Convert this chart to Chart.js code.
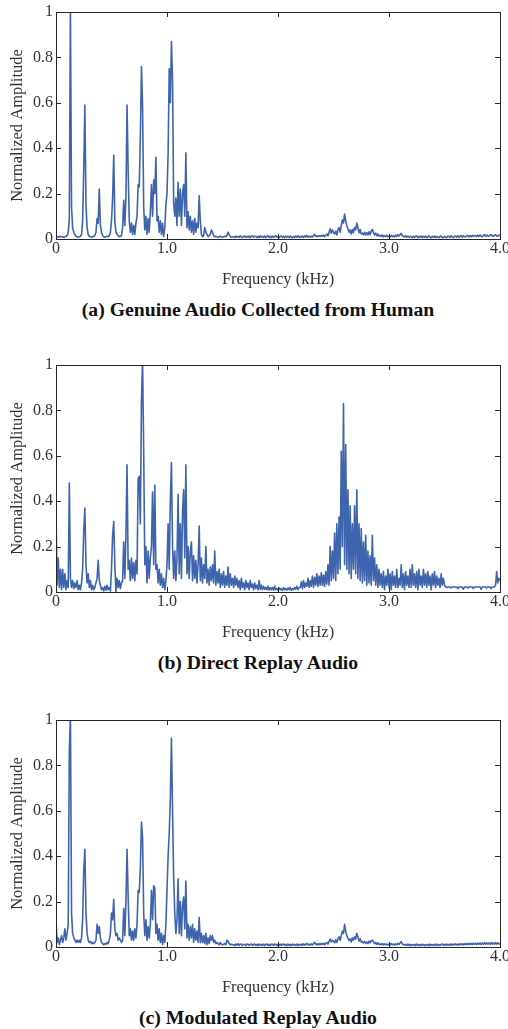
<!DOCTYPE html>
<html>
<head>
<meta charset="utf-8">
<script src="https://cdn.jsdelivr.net/npm/chart.js@4.4.0/dist/chart.umd.min.js"></script>
<style>
  html, body { margin: 0; padding: 0; background: #fff; }
  #page { position: relative; width: 508px; height: 1029px; overflow: hidden; }
  .panel { position: absolute; left: 0; width: 508px; height: 320px; }
  .panel canvas { position: absolute; left: 0; top: 0; }
  .caption {
    position: absolute; left: 8px; width: 500px; top: 298px;
    text-align: center; font: bold 19.7px "Liberation Serif", serif; color: #111;
    line-height: 22px; white-space: nowrap;
  }
</style>
</head>
<body>
<div id="page">
  <div class="panel" style="top:0px"><canvas id="chartA" width="508" height="290"></canvas><div class="caption">(a) Genuine Audio Collected from Human</div></div>
  <div class="panel" style="top:353px"><canvas id="chartB" width="508" height="290"></canvas><div class="caption">(b) Direct Replay Audio</div></div>
  <div class="panel" style="top:708px"><canvas id="chartC" width="508" height="290"></canvas><div class="caption">(c) Modulated Replay Audio</div></div>
</div>
<script>
// spectra, one value per 0.01 kHz bin (0.00 .. 4.00 kHz)
const STEP_KHZ = 0.01;

const X_TICKS = [0, 1, 2, 3, 4];
const X_TICK_LABELS = ['0', '1.0', '2.0', '3.0', '4.0'];
const Y_TICKS = [0, 0.2, 0.4, 0.6, 0.8, 1];
const Y_TICK_LABELS = ['0', '0.2', '0.4', '0.6', '0.8', '1'];

// (a) genuine audio
const genuineAmp = [
  0.01,0.012,0.008,0.01,0.012,0.009,0.01,0.008,0.01,0.012,
  0.015,0.03,0.09,1.02,0.14,0.05,0.03,0.02,0.012,0.01,
  0.008,0.01,0.012,0.02,0.08,0.31,0.59,0.15,0.05,0.02,
  0.012,0.01,0.008,0.01,0.012,0.015,0.03,0.09,0.07,0.22,
  0.06,0.03,0.015,0.01,0.008,0.01,0.012,0.01,0.015,0.03,
  0.08,0.18,0.37,0.08,0.03,0.02,0.015,0.01,0.012,0.015,
  0.05,0.17,0.06,0.18,0.59,0.3,0.08,0.03,0.07,0.02,
  0.06,0.02,0.07,0.1,0.24,0.23,0.45,0.76,0.58,0.14,
  0.04,0.1,0.02,0.09,0.03,0.12,0.24,0.1,0.26,0.2,
  0.36,0.08,0.1,0.03,0.08,0.02,0.07,0.01,0.05,0.15,
  0.2,0.38,0.75,0.6,0.87,0.7,0.16,0.1,0.18,0.06,
  0.25,0.1,0.22,0.06,0.2,0.24,0.1,0.38,0.05,0.12,
  0.04,0.1,0.03,0.08,0.02,0.09,0.03,0.07,0.05,0.19,
  0.08,0.02,0.01,0.015,0.05,0.03,0.02,0.01,0.015,0.02,
  0.04,0.03,0.015,0.01,0.012,0.01,0.008,0.01,0.012,0.01,
  0.008,0.01,0.012,0.01,0.015,0.03,0.02,0.01,0.008,0.01,
  0.01,0.006,0.013,0.008,0.012,0.007,0.014,0.009,0.006,0.012,
  0.013,0.007,0.012,0.008,0.013,0.006,0.012,0.014,0.008,0.011,
  0.012,0.007,0.012,0.006,0.014,0.008,0.012,0.007,0.013,0.006,
  0.012,0.014,0.007,0.012,0.006,0.013,0.007,0.012,0.014,0.008,
  0.011,0.006,0.012,0.013,0.007,0.012,0.006,0.013,0.008,0.012,
  0.007,0.013,0.008,0.006,0.012,0.007,0.013,0.008,0.014,0.007,
  0.012,0.008,0.013,0.007,0.014,0.008,0.016,0.009,0.012,0.008,
  0.013,0.009,0.016,0.02,0.011,0.014,0.01,0.015,0.011,0.016,
  0.012,0.018,0.01,0.016,0.022,0.014,0.03,0.045,0.025,0.04,
  0.03,0.022,0.035,0.018,0.042,0.05,0.03,0.06,0.085,0.07,
  0.11,0.08,0.06,0.045,0.03,0.04,0.022,0.042,0.028,0.05,
  0.04,0.07,0.05,0.028,0.042,0.022,0.026,0.018,0.03,0.018,
  0.028,0.018,0.032,0.02,0.035,0.042,0.028,0.018,0.026,0.014,
  0.022,0.013,0.016,0.011,0.018,0.009,0.015,0.011,0.016,0.01,
  0.012,0.009,0.016,0.01,0.014,0.009,0.017,0.011,0.019,0.013,
  0.02,0.025,0.014,0.012,0.009,0.014,0.008,0.013,0.008,0.012,
  0.01,0.006,0.013,0.007,0.012,0.014,0.006,0.012,0.007,0.013,
  0.006,0.012,0.008,0.013,0.006,0.011,0.014,0.007,0.006,0.012,
  0.007,0.013,0.006,0.012,0.008,0.006,0.012,0.013,0.007,0.006,
  0.012,0.007,0.006,0.013,0.011,0.007,0.014,0.009,0.006,0.012,
  0.013,0.008,0.014,0.007,0.013,0.015,0.008,0.014,0.01,0.009,
  0.014,0.016,0.009,0.015,0.01,0.017,0.011,0.014,0.016,0.01,
  0.017,0.011,0.018,0.012,0.01,0.017,0.019,0.012,0.018,0.013,
  0.012,0.018,0.02,0.013,0.011,0.018,0.019,0.013,0.012,0.018,
  0.015
];

// (b) direct replay
const directAmp = [
  0.35,0.03,0.15,0.02,0.1,0.01,0.1,0.02,0.08,0.01,
  0.05,0.02,0.48,0.06,0.02,0.05,0.015,0.04,0.02,0.05,
  0.01,0.03,0.01,0.04,0.1,0.27,0.37,0.12,0.04,0.08,
  0.02,0.05,0.01,0.03,0.01,0.02,0.04,0.06,0.14,0.05,
  0.03,0.01,0.02,0.005,0.025,0.008,0.03,0.01,0.02,0.005,
  0.1,0.25,0.31,0.12,0.0,0.06,0.02,0.05,0.015,0.04,
  0.05,0.22,0.06,0.25,0.56,0.1,0.14,0.05,0.15,0.06,
  0.13,0.05,0.14,0.08,0.5,0.51,0.3,0.85,1.02,0.62,
  0.12,0.2,0.04,0.18,0.06,0.15,0.2,0.44,0.12,0.47,
  0.1,0.12,0.04,0.1,0.03,0.08,0.02,0.06,0.01,0.05,
  0.12,0.3,0.1,0.4,0.57,0.2,0.06,0.18,0.05,0.15,
  0.43,0.08,0.3,0.06,0.35,0.45,0.15,0.56,0.08,0.2,
  0.06,0.18,0.22,0.05,0.16,0.06,0.14,0.04,0.12,0.29,
  0.05,0.15,0.04,0.12,0.06,0.2,0.04,0.1,0.03,0.11,
  0.05,0.12,0.04,0.18,0.03,0.09,0.04,0.1,0.02,0.08,
  0.03,0.09,0.02,0.07,0.03,0.11,0.02,0.08,0.03,0.06,
  0.02,0.07,0.03,0.06,0.02,0.05,0.01,0.06,0.02,0.04,
  0.01,0.05,0.02,0.04,0.01,0.05,0.02,0.035,0.01,0.04,
  0.015,0.03,0.01,0.05,0.012,0.03,0.01,0.025,0.012,0.02,
  0.01,0.025,0.008,0.02,0.01,0.02,0.008,0.025,0.01,0.015,
  0.008,0.018,0.01,0.015,0.006,0.02,0.01,0.015,0.008,0.018,
  0.01,0.02,0.008,0.015,0.01,0.02,0.012,0.025,0.01,0.02,
  0.02,0.045,0.015,0.05,0.02,0.04,0.025,0.06,0.02,0.05,
  0.025,0.07,0.02,0.065,0.03,0.08,0.025,0.07,0.03,0.085,
  0.03,0.075,0.025,0.09,0.035,0.12,0.03,0.2,0.05,0.18,
  0.06,0.26,0.05,0.3,0.08,0.33,0.1,0.62,0.2,0.83,
  0.12,0.65,0.1,0.45,0.08,0.38,0.06,0.3,0.1,0.38,
  0.08,0.45,0.06,0.3,0.05,0.28,0.04,0.22,0.05,0.25,
  0.03,0.18,0.04,0.16,0.03,0.25,0.05,0.15,0.03,0.12,
  0.02,0.1,0.03,0.08,0.02,0.09,0.01,0.07,0.03,0.1,
  0.02,0.08,0.01,0.09,0.03,0.07,0.02,0.1,0.02,0.06,
  0.03,0.12,0.02,0.08,0.01,0.09,0.03,0.07,0.02,0.1,
  0.02,0.12,0.03,0.08,0.02,0.09,0.01,0.1,0.03,0.07,
  0.02,0.1,0.03,0.08,0.02,0.09,0.03,0.07,0.01,0.08,
  0.03,0.09,0.02,0.07,0.03,0.06,0.02,0.08,0.03,0.06,
  0.03,0.022,0.022,0.02,0.022,0.022,0.018,0.022,0.022,0.022,
  0.022,0.022,0.015,0.022,0.022,0.022,0.022,0.012,0.022,0.022,
  0.022,0.018,0.022,0.022,0.022,0.022,0.015,0.022,0.022,0.022,
  0.022,0.022,0.022,0.012,0.022,0.022,0.022,0.022,0.018,0.022,
  0.022,0.022,0.015,0.022,0.022,0.022,0.03,0.09,0.04,0.06,
  0.05
];

// (c) modulated replay
const modulatedAmp = [
  0.12,0.02,0.04,0.01,0.03,0.05,0.02,0.04,0.08,0.03,
  0.06,0.1,0.86,1.02,0.15,0.06,0.04,0.03,0.02,0.03,
  0.02,0.03,0.02,0.04,0.12,0.34,0.43,0.15,0.06,0.03,
  0.02,0.025,0.015,0.02,0.015,0.02,0.03,0.1,0.06,0.09,
  0.04,0.02,0.015,0.01,0.015,0.012,0.02,0.015,0.03,0.06,
  0.15,0.12,0.21,0.08,0.05,0.06,0.03,0.04,0.03,0.02,
  0.03,0.17,0.05,0.2,0.43,0.22,0.05,0.08,0.03,0.07,
  0.03,0.08,0.04,0.1,0.25,0.24,0.35,0.55,0.48,0.15,
  0.05,0.12,0.03,0.09,0.04,0.1,0.25,0.12,0.27,0.26,
  0.06,0.1,0.03,0.08,0.02,0.06,0.01,0.05,0.02,0.1,
  0.25,0.4,0.5,0.65,0.92,0.6,0.3,0.15,0.06,0.12,
  0.3,0.06,0.2,0.05,0.18,0.22,0.08,0.29,0.04,0.1,
  0.03,0.09,0.04,0.1,0.02,0.08,0.03,0.07,0.02,0.13,
  0.02,0.06,0.02,0.05,0.015,0.06,0.01,0.04,0.015,0.05,
  0.03,0.05,0.02,0.03,0.015,0.02,0.015,0.01,0.02,0.012,
  0.01,0.012,0.015,0.01,0.03,0.025,0.015,0.01,0.012,0.01,
  0.01,0.006,0.013,0.008,0.015,0.007,0.012,0.013,0.007,0.011,
  0.012,0.006,0.013,0.012,0.007,0.012,0.013,0.006,0.012,0.013,
  0.007,0.012,0.006,0.013,0.008,0.012,0.007,0.013,0.006,0.012,
  0.013,0.007,0.012,0.006,0.013,0.012,0.007,0.013,0.012,0.006,
  0.012,0.007,0.013,0.006,0.012,0.013,0.007,0.012,0.006,0.013,
  0.007,0.012,0.006,0.013,0.008,0.012,0.007,0.013,0.006,0.012,
  0.008,0.013,0.007,0.014,0.008,0.012,0.016,0.009,0.013,0.008,
  0.014,0.009,0.016,0.02,0.011,0.014,0.009,0.015,0.01,0.016,
  0.011,0.016,0.01,0.017,0.02,0.013,0.025,0.035,0.022,0.03,
  0.026,0.018,0.032,0.02,0.036,0.045,0.03,0.05,0.07,0.06,
  0.1,0.07,0.05,0.038,0.028,0.036,0.022,0.04,0.03,0.045,
  0.035,0.06,0.045,0.026,0.036,0.022,0.024,0.018,0.024,0.016,
  0.022,0.015,0.026,0.018,0.028,0.03,0.022,0.015,0.02,0.012,
  0.018,0.011,0.014,0.01,0.015,0.009,0.014,0.01,0.013,0.009,
  0.012,0.009,0.015,0.01,0.013,0.009,0.014,0.01,0.016,0.011,
  0.018,0.024,0.013,0.011,0.008,0.012,0.007,0.013,0.007,0.012,
  0.006,0.011,0.007,0.012,0.006,0.013,0.007,0.011,0.006,0.012,
  0.007,0.012,0.006,0.011,0.007,0.012,0.006,0.013,0.007,0.011,
  0.006,0.012,0.007,0.013,0.006,0.011,0.007,0.012,0.013,0.007,
  0.012,0.007,0.013,0.008,0.012,0.007,0.014,0.008,0.013,0.009,
  0.014,0.009,0.013,0.008,0.015,0.01,0.014,0.009,0.015,0.01,
  0.015,0.01,0.016,0.011,0.016,0.01,0.017,0.012,0.016,0.011,
  0.017,0.012,0.018,0.011,0.017,0.012,0.019,0.013,0.018,0.012,
  0.018,0.012,0.019,0.013,0.018,0.012,0.019,0.013,0.018,0.013,
  0.014
];

const LINE_COLOR = '#3f64ae';
const AXIS_COLOR = '#262626';
const TEXT_COLOR = '#333';
const TICK_LEN = 5;

// boxed axes with inward ticks on all four sides
const frameTicks = {
  id: 'frameTicks',
  afterDatasetsDraw(chart) {
    const { ctx, chartArea: a, scales: { x, y } } = chart;
    ctx.save();
    ctx.strokeStyle = AXIS_COLOR;
    ctx.lineWidth = 1;
    ctx.beginPath();
    x.ticks.forEach(t => {
      const px = Math.round(x.getPixelForValue(t.value)) + 0.5;
      ctx.moveTo(px, a.bottom); ctx.lineTo(px, a.bottom - TICK_LEN);
      ctx.moveTo(px, a.top); ctx.lineTo(px, a.top + TICK_LEN);
    });
    y.ticks.forEach(t => {
      const py = Math.round(y.getPixelForValue(t.value)) + 0.5;
      ctx.moveTo(a.left, py); ctx.lineTo(a.left + TICK_LEN, py);
      ctx.moveTo(a.right, py); ctx.lineTo(a.right - TICK_LEN, py);
    });
    ctx.stroke();
    ctx.strokeRect(Math.round(a.left) + 0.5, Math.round(a.top) + 0.5,
      Math.round(a.right - a.left), Math.round(a.bottom - a.top));
    ctx.restore();
  }
};

function makeChart(id, amps) {
  const pts = amps.map((v, i) => ({ x: i * STEP_KHZ, y: v }));
  return new Chart(document.getElementById(id), {
    type: 'line',
    data: {
      datasets: [{
        data: pts,
        borderColor: LINE_COLOR,
        borderWidth: 1.6,
        borderJoinStyle: 'round',
        pointRadius: 0,
        tension: 0
      }]
    },
    options: {
      responsive: false,
      animation: false,
      events: [],
      layout: { padding: { top: 12, right: 8, left: 0, bottom: 0 } },
      plugins: { legend: { display: false }, tooltip: { enabled: false } },
      scales: {
        x: {
          type: 'linear', min: 0, max: 4,
          afterBuildTicks: s => { s.ticks = X_TICKS.map(v => ({ value: v })); },
          afterFit: s => { s.height = 51; s.paddingLeft = 0; s.paddingRight = 0; },
          grid: { display: false, drawTicks: false },
          border: { display: false },
          ticks: {
            padding: 0, maxRotation: 0, autoSkip: false, color: TEXT_COLOR,
            font: { family: '"Liberation Serif", serif', size: 16 },
            callback: (v, i) => X_TICK_LABELS[i]
          },
          title: {
            display: true, text: 'Frequency (kHz)', color: TEXT_COLOR,
            font: { family: '"Liberation Serif", serif', size: 16.5 },
            padding: { top: 0, bottom: 0 }
          }
        },
        y: {
          type: 'linear', min: 0, max: 1,
          afterBuildTicks: s => { s.ticks = Y_TICKS.map(v => ({ value: v })); },
          afterFit: s => { s.width = 56; s.paddingTop = 0; s.paddingBottom = 0; },
          grid: { display: false, drawTicks: false },
          border: { display: false },
          ticks: {
            padding: 3, autoSkip: false, color: TEXT_COLOR,
            font: { family: '"Liberation Serif", serif', size: 16 },
            callback: (v, i) => Y_TICK_LABELS[i]
          },
          title: {
            display: true, text: 'Normalized Amplitude', color: TEXT_COLOR,
            font: { family: '"Liberation Serif", serif', size: 16.5 },
            padding: { top: 8, bottom: 0 }
          }
        }
      }
    },
    plugins: [frameTicks]
  });
}

document.addEventListener('DOMContentLoaded', () => {
  makeChart('chartA', genuineAmp);
  makeChart('chartB', directAmp);
  makeChart('chartC', modulatedAmp);
});
</script>
</body>
</html>
